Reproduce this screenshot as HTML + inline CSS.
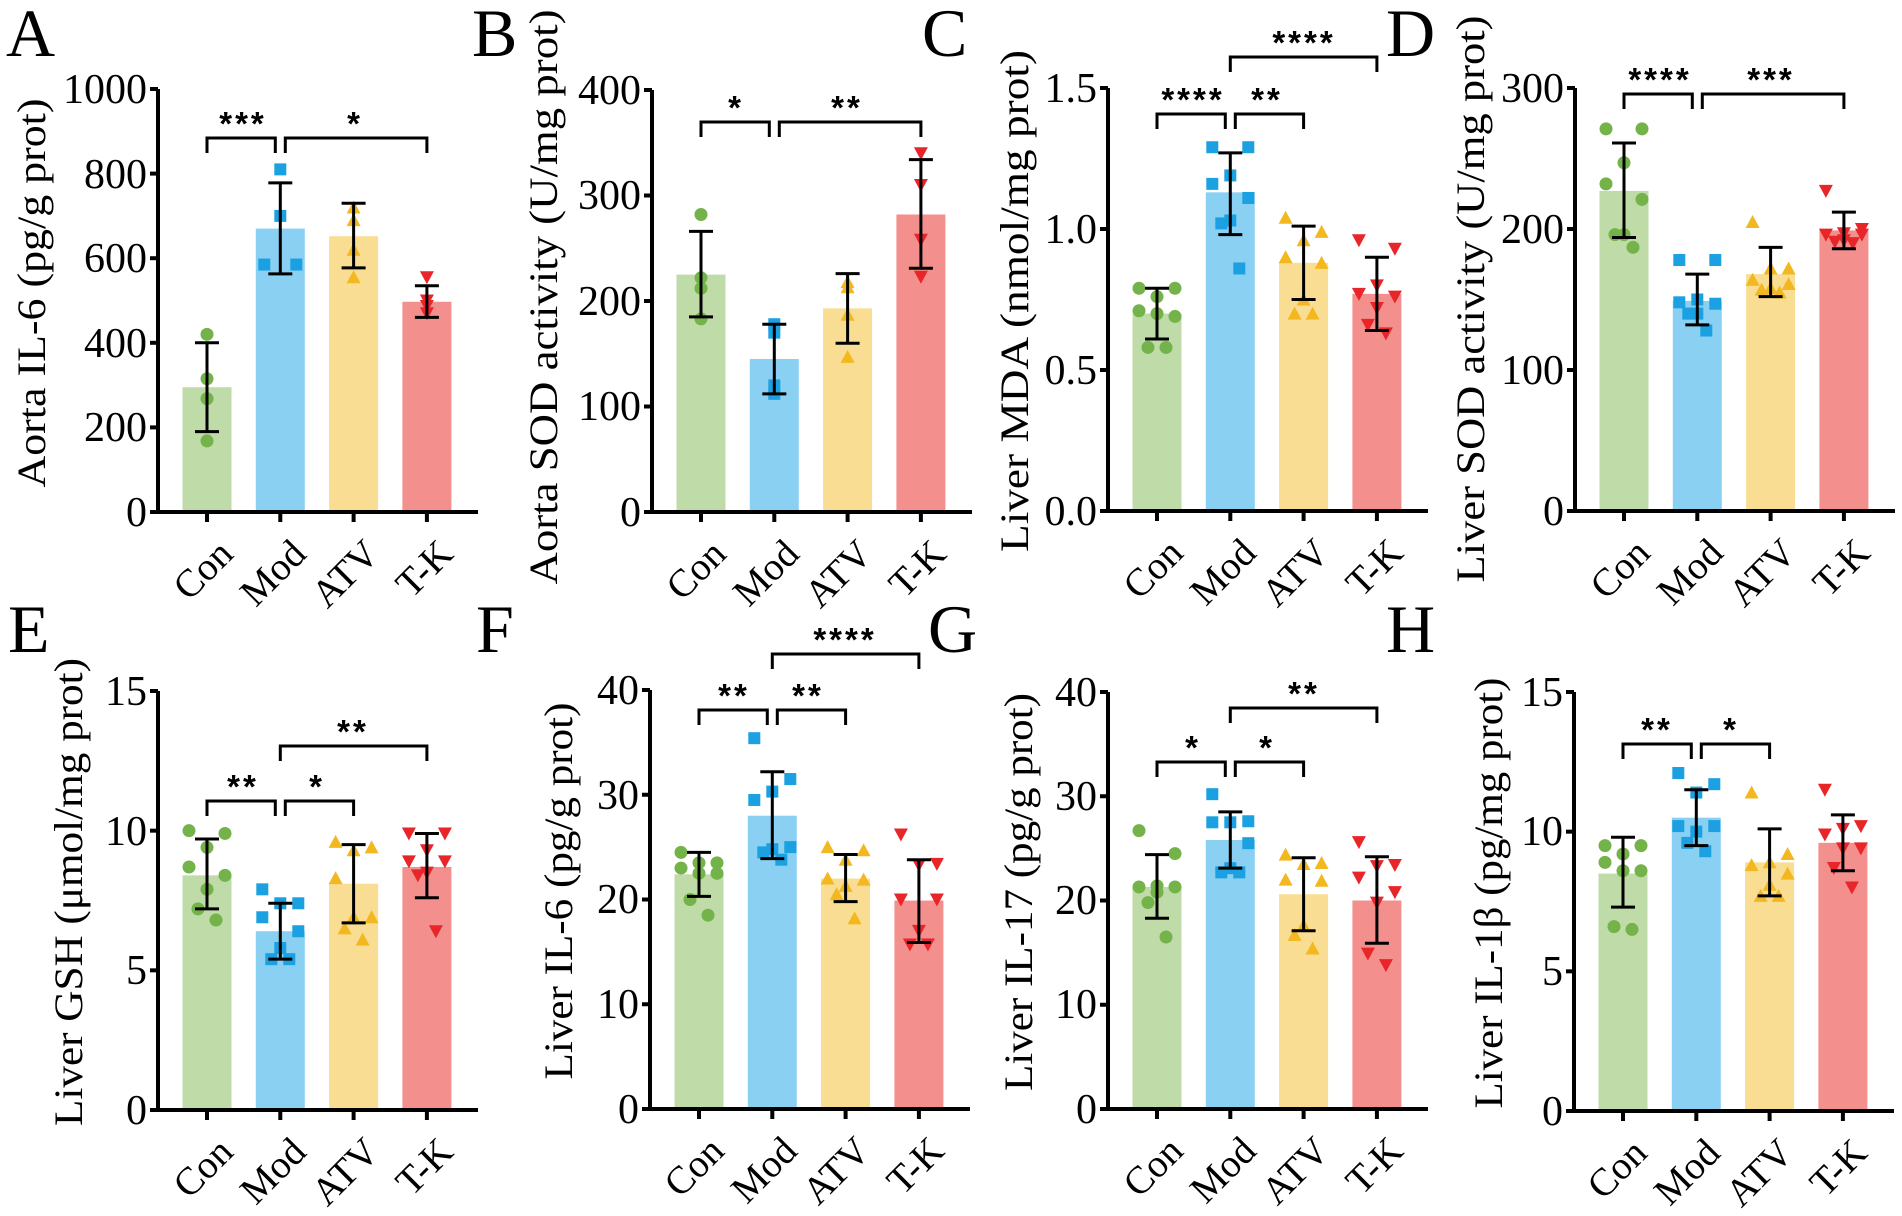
<!DOCTYPE html>
<html><head><meta charset="utf-8">
<style>
html,body{margin:0;padding:0;background:#fff;}
svg{display:block;}
.lt{font-family:"Liberation Serif",serif;font-size:68px;}
.tk{font-family:"Liberation Serif",serif;font-size:42px;text-anchor:end;}
.ti{font-family:"Liberation Serif",serif;font-size:40px;text-anchor:middle;}
.ct{font-family:"Liberation Serif",serif;font-size:39px;text-anchor:end;}
.st{font-family:"Liberation Sans",sans-serif;font-size:33px;font-weight:bold;text-anchor:middle;letter-spacing:3px;}
</style></head><body>
<svg id="s" width="1902" height="1216" viewBox="0 0 1902 1216" xmlns="http://www.w3.org/2000/svg">
<g id="shapes"></g>
<text class="lt" x="6" y="56">A</text>
<text class="lt" x="472" y="56">B</text>
<text class="lt" x="922" y="56">C</text>
<text class="lt" x="1386" y="56">D</text>
<text class="lt" x="8" y="652">E</text>
<text class="lt" x="476" y="652">F</text>
<text class="lt" x="928" y="652">G</text>
<text class="lt" x="1386" y="652">H</text>
<text class="ti" transform="translate(45,293) rotate(-90)" textLength="389" lengthAdjust="spacingAndGlyphs">Aorta IL-6 (pg/g prot)</text>
<text class="ti" transform="translate(557,297) rotate(-90)" textLength="575" lengthAdjust="spacingAndGlyphs">Aorta SOD activity (U/mg prot)</text>
<text class="ti" transform="translate(1028,301) rotate(-90)" textLength="502" lengthAdjust="spacingAndGlyphs">Liver MDA (nmol/mg prot)</text>
<text class="ti" transform="translate(1484,299) rotate(-90)" textLength="567" lengthAdjust="spacingAndGlyphs">Liver SOD activity (U/mg prot)</text>
<text class="ti" transform="translate(82,892) rotate(-90)" textLength="468" lengthAdjust="spacingAndGlyphs">Liver GSH (μmol/mg prot)</text>
<text class="ti" transform="translate(572,891) rotate(-90)" textLength="377" lengthAdjust="spacingAndGlyphs">Liver IL-6 (pg/g prot)</text>
<text class="ti" transform="translate(1032,892) rotate(-90)" textLength="398" lengthAdjust="spacingAndGlyphs">Liver IL-17 (pg/g prot)</text>
<text class="ti" transform="translate(1502,893) rotate(-90)" textLength="431" lengthAdjust="spacingAndGlyphs">Liver IL-1β (pg/mg prot)</text>
<g class="tk">
<text x="147" y="526">0</text><text x="147" y="441">200</text><text x="147" y="357">400</text><text x="147" y="272">600</text><text x="147" y="188">800</text><text x="147" y="103">1000</text>
<text x="641" y="526">0</text><text x="641" y="420">100</text><text x="641" y="315">200</text><text x="641" y="209">300</text><text x="641" y="104">400</text>
<text x="1097" y="525">0.0</text><text x="1097" y="384">0.5</text><text x="1097" y="243">1.0</text><text x="1097" y="102">1.5</text>
<text x="1564" y="525">0</text><text x="1564" y="384">100</text><text x="1564" y="243">200</text><text x="1564" y="102">300</text>
<text x="147" y="1124">0</text><text x="147" y="984">5</text><text x="147" y="845">10</text><text x="147" y="705">15</text>
<text x="639" y="1123">0</text><text x="639" y="1018">10</text><text x="639" y="913">20</text><text x="639" y="809">30</text><text x="639" y="704">40</text>
<text x="1097" y="1123">0</text><text x="1097" y="1018">10</text><text x="1097" y="914">20</text><text x="1097" y="810">30</text><text x="1097" y="706">40</text>
<text x="1563" y="1125">0</text><text x="1563" y="985">5</text><text x="1563" y="845">10</text><text x="1563" y="706">15</text>
</g>
<g class="ct">
<g transform="translate(207,512)"><text transform="translate(28,44) rotate(-45)">Con</text><text transform="translate(101,44) rotate(-45)">Mod</text><text transform="translate(174,44) rotate(-45)">ATV</text><text transform="translate(248,44) rotate(-45)">T-K</text></g>
<g transform="translate(700,512)"><text transform="translate(28,44) rotate(-45)">Con</text><text transform="translate(101,44) rotate(-45)">Mod</text><text transform="translate(174,44) rotate(-45)">ATV</text><text transform="translate(248,44) rotate(-45)">T-K</text></g>
<g transform="translate(1157,511)"><text transform="translate(28,44) rotate(-45)">Con</text><text transform="translate(101,44) rotate(-45)">Mod</text><text transform="translate(174,44) rotate(-45)">ATV</text><text transform="translate(248,44) rotate(-45)">T-K</text></g>
<g transform="translate(1624,511)"><text transform="translate(28,44) rotate(-45)">Con</text><text transform="translate(101,44) rotate(-45)">Mod</text><text transform="translate(174,44) rotate(-45)">ATV</text><text transform="translate(248,44) rotate(-45)">T-K</text></g>
<g transform="translate(207,1110)"><text transform="translate(28,44) rotate(-45)">Con</text><text transform="translate(101,44) rotate(-45)">Mod</text><text transform="translate(174,44) rotate(-45)">ATV</text><text transform="translate(248,44) rotate(-45)">T-K</text></g>
<g transform="translate(698,1109)"><text transform="translate(28,44) rotate(-45)">Con</text><text transform="translate(101,44) rotate(-45)">Mod</text><text transform="translate(174,44) rotate(-45)">ATV</text><text transform="translate(248,44) rotate(-45)">T-K</text></g>
<g transform="translate(1157,1109)"><text transform="translate(28,44) rotate(-45)">Con</text><text transform="translate(101,44) rotate(-45)">Mod</text><text transform="translate(174,44) rotate(-45)">ATV</text><text transform="translate(248,44) rotate(-45)">T-K</text></g>
<g transform="translate(1621,1111)"><text transform="translate(28,44) rotate(-45)">Con</text><text transform="translate(101,44) rotate(-45)">Mod</text><text transform="translate(174,44) rotate(-45)">ATV</text><text transform="translate(248,44) rotate(-45)">T-K</text></g>
</g>
<g class="st">
<text x="243" y="135">***</text><text x="355" y="135">*</text>
<text x="736" y="119">*</text><text x="847" y="119">**</text>
<text x="1193" y="111">****</text><text x="1267" y="111">**</text><text x="1304" y="54">****</text>
<text x="1660" y="91">****</text><text x="1771" y="91">***</text>
<text x="243" y="798">**</text><text x="317" y="798">*</text><text x="353" y="743">**</text>
<text x="734" y="707">**</text><text x="808" y="707">**</text><text x="845" y="651">****</text>
<text x="1193" y="759">*</text><text x="1267" y="759">*</text><text x="1304" y="705">**</text>
<text x="1657" y="741">**</text><text x="1731" y="741">*</text>
</g>
</svg>
<script>
(function(){
var NS="http://www.w3.org/2000/svg",g=document.getElementById("shapes");
function el(t,a){var e=document.createElementNS(NS,t);for(var k in a)e.setAttribute(k,a[k]);g.appendChild(e);return e;}
var barC=["#bedba8","#8ad0f3","#f8dd93","#f3908d"],ptC=["#74b24a","#1ba1e2","#f3b81f","#e8262a"];
var P=[
{ax:158,top:89,zero:512,max:1000,nt:5,m:[295,670,652,497],e:[[190,400],[563,778],[577,730],[460,535]],
 p:[[420,315,268,168],[810,700,585,585],[720,690,620,555],[555,500,487,470]],b:[[0,1,138],[1,3,138]]},
{ax:652,top:90,zero:512,max:400,nt:4,m:[225,145,193,282],e:[[185,266],[112,178],[160,226],[231,334]],
 p:[[282,222,212,183],[178,170,120,112],[218,213,187,147],[340,310,258,223]],b:[[0,1,122],[1,3,122]]},
{ax:1108,top:88,zero:511,max:1.5,nt:3,m:[.70,1.13,.88,.77],e:[[.61,.79],[.98,1.27],[.75,1.01],[.64,.90]],
 p:[[.79,.79,.76,.71,.69,.70,.58,.58],[1.29,1.29,1.19,1.16,1.11,1.03,1.02,.86],[1.04,.99,.96,.90,.88,.75,.70,.70],[.96,.93,.80,.77,.76,.72,.66,.63]],b:[[0,1,114],[1,2,114],[1,3,57,1]]},
{ax:1575,top:88,zero:511,max:300,nt:3,m:[227,149,168,199],e:[[194,261],[132,168],[152,187],[186,212]],
 p:[[271,271,247,232,221,196,196,187],[178,178,150,148,147,140,140,128],[205,172,172,164,161,158,157,155],[227,200,197,196,196,192,191,190]],b:[[0,1,94],[1,3,94]]},
{ax:158,top:691,zero:1110,max:15,nt:3,m:[8.4,6.4,8.1,8.7],e:[[7.2,9.7],[5.4,7.4],[6.7,9.5],[7.6,9.9]],
 p:[[10,9.9,9.4,8.7,8.4,7.9,7.2,6.8],[7.9,7.4,7.4,6.9,6.4,5.8,5.4,5.4],[9.6,9.4,9.3,8.3,6.9,6.9,6.5,6.1],[9.9,9.9,9.3,8.9,8.9,8.5,8.4,6.4]],b:[[0,1,801],[1,2,801],[1,3,746,1]]},
{ax:650,top:690,zero:1109,max:40,nt:4,m:[22.4,28,22,19.9],e:[[20.3,24.5],[23.9,32.2],[19.8,24.3],[15.9,23.8]],
 p:[[24.5,23.5,23.5,23,22.5,22.5,20,18.5],[35.4,31.5,30.3,29.5,25,24.8,24.5,23.8],[25,24.7,23.8,22,21.9,21.3,20.5,18.2],[26.2,23.4,23.3,20,20,17,15.7,15.7]],b:[[0,1,710],[1,2,710],[1,3,654,1]]},
{ax:1108,top:692,zero:1109,max:40,nt:4,m:[21.3,25.8,20.6,20],e:[[18.3,24.4],[23.1,28.5],[17.1,24.1],[15.9,24.2]],
 p:[[26.7,24.5,21.4,21.3,21.3,20.8,19.8,16.5],[30.2,27.6,27.5,27.5,25.5,23.1,22.7,22.7],[24.4,23.6,23.5,22,21.9,17.6,16.7,15.4],[25.6,23.4,23.3,22.2,20.8,19.8,14.9,13.8]],b:[[0,1,762],[1,2,762],[1,3,708,1]]},
{ax:1574,top:692,zero:1111,max:15,nt:3,m:[8.5,10.5,8.9,9.6],e:[[7.3,9.8],[9.5,11.5],[7.7,10.1],[8.6,10.6]],
 p:[[9.5,9.5,9.2,8.9,8.6,8.6,6.6,6.5],[12.1,11.7,11.4,10.2,10.2,10,9.6,9.3],[11.4,9.2,8.9,8.8,8.5,8.1,7.7,7.7],[11.5,10.2,10.1,9.9,9.4,9.4,8.7,8.0]],b:[[0,1,744],[1,2,744]]}
];
var jit8=[-18,18,0,-18,18,0,-9,9],jit4=[0,0,0,0];
P.forEach(function(q){
 var Y=function(v){return q.zero-(v/q.max)*(q.zero-q.top);};
 var cx=function(i){return q.ax+49+73.3*i;};
 for(var i=0;i<4;i++){
  var x=cx(i);
  el("rect",{x:x-24.5,y:Y(q.m[i]),width:49,height:q.zero-Y(q.m[i]),fill:barC[i]});
  var pts=q.p[i],J=pts.length>4?jit8:jit4;
  if(pts.length==4&&i==1&&q.max==1000)J=[0,0,-16,16];
  pts.forEach(function(v,k){
   var px=x+J[k],py=Y(v),c=ptC[i];
   if(i==0)el("circle",{cx:px,cy:py,r:6.5,fill:c});
   else if(i==1)el("rect",{x:px-6,y:py-6,width:12,height:12,fill:c});
   else if(i==2)el("polygon",{points:(px-7)+","+(py+6)+" "+(px+7)+","+(py+6)+" "+px+","+(py-7),fill:c});
   else el("polygon",{points:(px-7)+","+(py-6)+" "+(px+7)+","+(py-6)+" "+px+","+(py+7),fill:c});
  });
  var y1=Y(q.e[i][0]),y2=Y(q.e[i][1]);
  el("path",{d:"M"+x+" "+y1+"V"+y2+"M"+(x-12)+" "+y1+"h24M"+(x-12)+" "+y2+"h24",stroke:"#000","stroke-width":3,fill:"none"});
  el("line",{x1:x,y1:q.zero,x2:x,y2:q.zero+10,stroke:"#000","stroke-width":4});
 }
 el("path",{d:"M"+q.ax+" "+q.top+"V"+q.zero+"H"+(q.ax+320),stroke:"#000","stroke-width":4,fill:"none"});
 for(var t=0;t<=q.nt;t++){var ty=q.zero-(q.zero-q.top)*t/q.nt;el("line",{x1:q.ax-8,y1:ty,x2:q.ax,y2:ty,stroke:"#000","stroke-width":4});}
 q.b.forEach(function(b){
  var x1=cx(b[0]),x2=cx(b[1]),y=b[2];
  if(!b[3]){ if(b[0]==1)x1+=5; if(b[1]==1)x2-=5; }
  el("path",{d:"M"+x1+" "+(y+15)+"V"+y+"H"+x2+"V"+(y+15),stroke:"#000","stroke-width":3,fill:"none"});
 });
});
})();
</script>
</body></html>
